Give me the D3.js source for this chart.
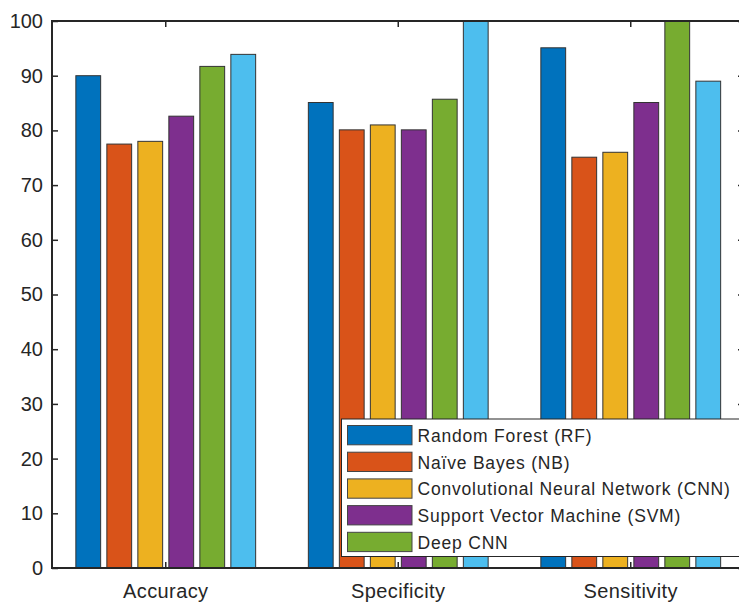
<!DOCTYPE html>
<html>
<head>
<meta charset="utf-8">
<script src="https://cdn.jsdelivr.net/npm/d3@7"></script>
<style>
  html, body { margin: 0; padding: 0; background: #fff; }
  svg { display: block; }
  text { font-family: "Liberation Sans", Arial, Helvetica, sans-serif; fill: #262626; }
</style>
</head>
<body>
<svg id="chart" width="739" height="602"></svg>
<script>
// ---- data ----
const categories = ["Accuracy", "Specificity", "Sensitivity"];
const seriesNames = ["Random Forest (RF)", "Naïve Bayes (NB)", "Convolutional Neural Network (CNN)", "Support Vector Machine (SVM)", "Deep CNN", "Proposed"];
const rfValues   = [90.0, 85.1, 95.1];
const nbValues   = [77.5, 80.1, 75.1];
const cnnValues  = [78.0, 81.0, 76.0];
const svmValues  = [82.6, 80.1, 85.1];
const dcnnValues = [91.7, 85.7, 100];
const propValues = [93.9, 100, 89.0];
const seriesValues = [rfValues, nbValues, cnnValues, svmValues, dcnnValues, propValues];
const legendCount = 5;
const yTicks = [0, 10, 20, 30, 40, 50, 60, 70, 80, 90, 100];
const colors = ["#0072BD", "#D95319", "#EDB120", "#7E2F8E", "#77AC30", "#4DBEEE"];

// ---- layout ----
const svg = d3.select("#chart");
const plot = { left: 52, right: 744, top: 21, bottom: 568 };

const x = d3.scaleBand().domain(categories).range([49.5, 747]).paddingInner(0).paddingOuter(0);
const groupW = x.bandwidth() * 0.8;
const xs = d3.scaleBand().domain(d3.range(seriesNames.length)).range([-groupW / 2, groupW / 2]);
const barW = xs.bandwidth() * 0.8;
const y = d3.scaleLinear().domain([0, 100]).range([plot.bottom, plot.top]);

// bars
const groups = svg.append("g").selectAll("g")
  .data(seriesValues)
  .join("g")
  .attr("fill", (d, i) => colors[i]);

groups.selectAll("rect")
  .data((vals, si) => vals.map((v, ci) => ({ v, ci, si })))
  .join("rect")
  .attr("x", d => x(categories[d.ci]) + x.bandwidth() / 2 + xs(d.si) + (xs.bandwidth() - barW) / 2)
  .attr("y", d => y(d.v))
  .attr("width", barW)
  .attr("height", d => y(0) - y(d.v))
  .attr("stroke", "#333")
  .attr("stroke-width", 1);

// axes box
const axisColor = "#262626";
const axG = svg.append("g");
axG.append("line").attr("x1", plot.left).attr("x2", plot.right).attr("y1", plot.top).attr("y2", plot.top)
  .attr("stroke", axisColor).attr("stroke-width", 2);
axG.append("line").attr("x1", plot.left).attr("x2", plot.right).attr("y1", plot.bottom).attr("y2", plot.bottom)
  .attr("stroke", axisColor).attr("stroke-width", 2);
axG.append("line").attr("x1", plot.left).attr("x2", plot.left).attr("y1", plot.top - 1).attr("y2", plot.bottom + 1)
  .attr("stroke", axisColor).attr("stroke-width", 2);
axG.append("line").attr("x1", plot.right).attr("x2", plot.right).attr("y1", plot.top - 1).attr("y2", plot.bottom + 1)
  .attr("stroke", axisColor).attr("stroke-width", 2);

// y axis via d3
const yAxis = d3.axisLeft(y).tickValues(yTicks).tickSize(-6).tickPadding(15).tickFormat(d3.format("d"));
const yg = svg.append("g").attr("transform", `translate(${plot.left},0)`).call(yAxis);
yg.select(".domain").remove();
yg.selectAll(".tick line").attr("stroke", axisColor).attr("stroke-width", 1.5);
yg.selectAll(".tick text").attr("font-size", 20).attr("fill", axisColor)
  .attr("font-family", "'Liberation Sans', Arial, sans-serif").attr("x", -9);

const yRight = d3.axisRight(y).tickValues(yTicks).tickSize(-6).tickFormat("");
const yrg = svg.append("g").attr("transform", `translate(${plot.right},0)`).call(yRight);
yrg.select(".domain").remove();
yrg.selectAll(".tick line").attr("stroke", axisColor).attr("stroke-width", 1.5);

// x axis via d3
const xAxis = d3.axisBottom(x).tickSize(-6).tickPadding(16);
const xg = svg.append("g").attr("transform", `translate(0,${plot.bottom})`).call(xAxis);
xg.select(".domain").remove();
xg.selectAll(".tick line").attr("stroke", axisColor).attr("stroke-width", 1.5);
xg.selectAll(".tick text").attr("font-size", 20).attr("fill", axisColor)
  .attr("letter-spacing", "0.4px")
  .attr("font-family", "'Liberation Sans', Arial, sans-serif");

const xTop = d3.axisTop(x).tickSize(-6).tickFormat("");
const xtg = svg.append("g").attr("transform", `translate(0,${plot.top})`).call(xTop);
xtg.select(".domain").remove();
xtg.selectAll(".tick line").attr("stroke", axisColor).attr("stroke-width", 1.5);

// legend
const leg = svg.append("g");
leg.append("rect").attr("x", 341.5).attr("y", 419).attr("width", 410).attr("height", 137.5)
  .attr("fill", "#fff").attr("stroke", axisColor).attr("stroke-width", 1);
const pitch = 26.7;
const items = leg.selectAll("g.item").data(seriesNames.slice(0, legendCount)).join("g").attr("class", "item");
items.append("rect")
  .attr("x", 347.5).attr("y", (d, i) => 425.5 + i * pitch)
  .attr("width", 64.5).attr("height", 19.3)
  .attr("fill", (d, i) => colors[i]).attr("stroke", "#444").attr("stroke-width", 1);
items.append("text")
  .attr("x", 417.5).attr("y", (d, i) => 425.5 + i * pitch + 10.5)
  .attr("dominant-baseline", "central")
  .attr("font-size", 17.5)
  .attr("letter-spacing", "0.8px")
  .text(d => d);
</script>
</body>
</html>
